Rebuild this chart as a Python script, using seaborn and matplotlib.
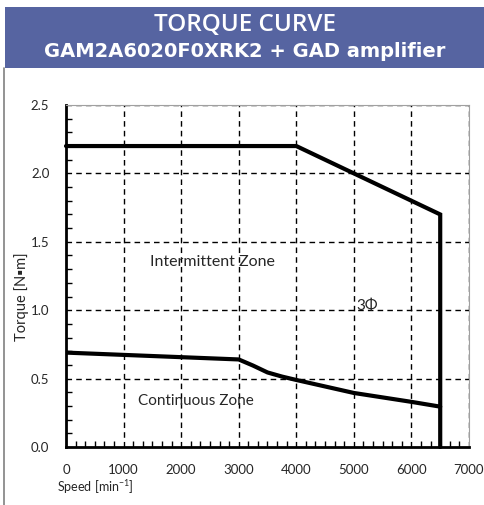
import numpy as np
import pandas as pd
import matplotlib
matplotlib.use("Agg")
import matplotlib.pyplot as plt
from matplotlib.ticker import AutoMinorLocator, MultipleLocator
import seaborn as sns

# torque curve values
int_speed = [0, 4000, 6500, 6500]
int_torque = [2.2, 2.2, 1.7, 0.0]
cont_speed = [0, 3000, 3250, 3500, 3750, 4000, 5000, 6000, 6500]
cont_torque = [0.69, 0.64, 0.595, 0.545, 0.515, 0.49, 0.395, 0.33, 0.295]
x_ticks = [0, 1000, 2000, 3000, 4000, 5000, 6000, 7000]
y_ticks = [0.0, 0.5, 1.0, 1.5, 2.0, 2.5]

sns.set_style("white")
plt.rcParams['font.family'] = ['Lato', 'DejaVu Sans']

fig = plt.figure(figsize=(4.85, 5.05), dpi=100)

# title banner
ban = fig.add_axes([5/485, 1 - 68/505, 480/485, 61/505])
ban.set_facecolor("#5664a1")
ban.set_xticks([]); ban.set_yticks([])
for s in ban.spines.values():
    s.set_visible(False)
ban.text(0.5, 0.71, "TORQUE CURVE", color="white", fontsize=17.5,
         fontweight="semibold", ha="center", va="center", family="Open Sans")
ban.text(0.5, 0.27, "GAM2A6020F0XRK2 + GAD amplifier", color="white",
         fontsize=14, fontweight="bold", ha="center", va="center",
         family="DejaVu Sans")

# left frame line
fig.add_artist(plt.Line2D([4.5/485, 4.5/485], [0, 1 - 68/505], color="#808080", lw=1.2))

ax = fig.add_axes([66/485, 58/505, 403/485, 342/505])

df_int = pd.DataFrame({"speed": int_speed, "torque": int_torque})
df_cont = pd.DataFrame({"speed": cont_speed, "torque": cont_torque})
ax.plot(df_int["speed"], df_int["torque"], color="black", lw=3, solid_joinstyle="miter", clip_on=False, zorder=5)
sns.lineplot(data=df_cont, x="speed", y="torque", ax=ax, color="black", lw=3,
             sort=False, estimator=None, zorder=5)

ax.set_xlim(0, 7000)
ax.set_ylim(0, 2.5)
ax.set_xticks(x_ticks)
ax.set_yticks(y_ticks)
ax.set_yticklabels([f"{v:.1f}" for v in y_ticks])
ax.xaxis.set_minor_locator(AutoMinorLocator(6))
ax.yaxis.set_minor_locator(MultipleLocator(0.1))
ax.tick_params(which="major", direction="in", length=0, labelsize=9.5, pad=12)
ax.tick_params(which="minor", direction="in", length=4, width=1, color="black",
               bottom=True, left=True)

for v in x_ticks[1:]:
    ax.axvline(v, color="black", lw=1, ls=(0, (4, 3)), zorder=1)
for v in y_ticks[1:]:
    ax.axhline(v, color="black", lw=1, ls=(0, (4, 3)), zorder=1)

ax.spines["left"].set_linewidth(2)
ax.spines["bottom"].set_linewidth(2)
ax.spines["left"].set_color("black")
ax.spines["bottom"].set_color("black")
ax.spines["top"].set_color("#a0a0a0")
ax.spines["right"].set_color("#a0a0a0")

ax.set_xlabel("")
ax.set_ylabel("")
ax.text(2550, 1.35, "Intermittent Zone", fontsize=11.5, ha="center", va="center")
ax.text(2250, 0.335, "Continuous Zone", fontsize=11, ha="center", va="center")
ax.text(5230, 1.03, "3\u03a6", fontsize=11, ha="center", va="center")

fig.text(22/485, 1 - 297/505, "Torque [N\u25aam]", rotation=90, fontsize=10.5,
         ha="center", va="center")
fig.text(57/485, 1 - 487/505, "Speed [min$^{\\mathregular{-1}}$]", fontsize=9,
         ha="left", va="center")

fig.savefig("out.png", dpi=100)
